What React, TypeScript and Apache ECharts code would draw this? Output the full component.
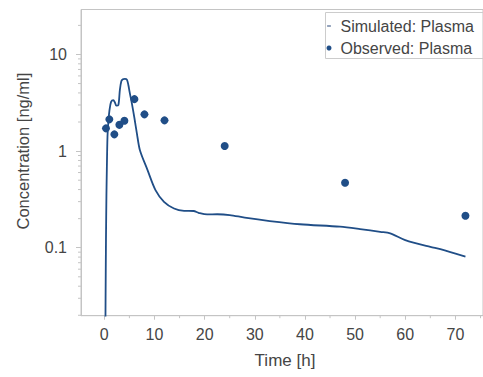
import React, { useEffect, useRef } from "react";
import * as echarts from "echarts";

const simTime = [0.17, 0.25, 0.33, 0.42, 0.5, 0.63, 0.8, 1.03, 1.35, 1.8, 2.1, 2.4, 2.8, 3.1, 3.4, 3.7, 4.1, 4.5, 4.8, 5.0, 5.5, 6.0, 6.5, 7.1, 8.6, 10.2, 11.9, 13.9, 15.9, 17.8, 18.8, 20.5, 22.5, 25, 28, 33, 39, 47, 51, 55, 57, 60, 65, 67, 72];
const simConc = [0.005, 0.03, 0.12, 0.35, 0.64, 1.41, 2.0, 2.65, 3.23, 3.37, 3.2, 2.95, 2.99, 4.3, 5.3, 5.55, 5.6, 5.5, 4.8, 4.2, 3.1, 2.2, 1.52, 1.02, 0.64, 0.395, 0.299, 0.255, 0.241, 0.24, 0.23, 0.221, 0.222, 0.218, 0.205, 0.189, 0.175, 0.165, 0.156, 0.146, 0.141, 0.12, 0.102, 0.097, 0.081];

const obsTime = [0.33, 1, 2, 3, 4, 6, 8, 12, 24, 48, 72];
const obsConc = [1.72, 2.13, 1.49, 1.87, 2.06, 3.45, 2.4, 2.08, 1.13, 0.47, 0.214];

const xMajorTicks = [0, 10, 20, 30, 40, 50, 60, 70];
const xMinorTicks = [5, 15, 25, 35, 45, 55, 65, 75];
const yMajorTicks = [0.1, 1, 10];
const yMinorTicks = [0.02, 0.03, 0.04, 0.05, 0.06, 0.07, 0.08, 0.09, 0.2, 0.3, 0.4, 0.5, 0.6, 0.7, 0.8, 0.9, 2, 3, 4, 5, 6, 7, 8, 9, 20];

const simName = "Simulated: Plasma";
const obsName = "Observed: Plasma";

const COLOR = "#204e87";
const TEXT = "#454545";
const AXIS = "#c4c4c4";
const FONT = "'Liberation Sans', Arial, sans-serif";

export default function App() {
  const ref = useRef<HTMLDivElement>(null);
  useEffect(() => {
    if (!ref.current) return;
    const chart = echarts.init(ref.current, undefined, { renderer: "svg" });
    chart.setOption({
      animation: false,
      textStyle: { fontFamily: FONT },
      grid: {
        left: 81,
        top: 9.5,
        right: -1,
        bottom: 61.3,
        show: true,
        borderColor: AXIS,
        borderWidth: 1,
      },
      legend: {
        orient: "vertical",
        left: 325.5,
        top: 12.5,
        padding: [5, 30, 2, 1],
        borderColor: "#cccccc",
        borderWidth: 1,
        itemGap: 5,
        itemWidth: 5,
        itemHeight: 5,
        selectedMode: false,
        textStyle: { fontSize: 16, color: TEXT, lineHeight: 17, padding: [0, 0, 0, 4], fontFamily: FONT },
        data: [
          { name: simName, icon: "path://M0,0M5,5M0.6,1.9L4.4,1.9L4.4,3.1L0.6,3.1Z", itemStyle: { color: "#4d6790" } },
          { name: obsName, icon: "circle" },
        ],
      },
      xAxis: {
        type: "value",
        min: -4.65,
        max: 75.5,
        name: "Time [h]",
        nameLocation: "middle",
        nameGap: 36,
        nameTextStyle: { fontSize: 17, color: TEXT, padding: [0, 0, 0, 6] },
        axisLine: { show: true, onZero: false, lineStyle: { color: AXIS } },
        axisTick: { show: true, customValues: xMajorTicks, length: 4, lineStyle: { color: AXIS } },
        axisLabel: { customValues: xMajorTicks, fontSize: 16, color: TEXT, margin: 11 },
        splitLine: { show: false },
      },
      yAxis: {
        type: "log",
        logBase: 10,
        min: 0.0198,
        max: 29.2,
        name: "Concentration [ng/ml]",
        nameLocation: "middle",
        nameGap: 50,
        nameTextStyle: { fontSize: 16.5, color: TEXT, padding: [0, 0, 0, 23] },
        axisLine: { show: true, onZero: false, lineStyle: { color: AXIS } },
        axisTick: { show: true, customValues: yMajorTicks, length: 5, lineStyle: { color: AXIS } },
        axisLabel: {
          customValues: yMajorTicks,
          fontSize: 16,
          color: TEXT,
          margin: 14,
          formatter: (v: number) => String(v),
        },
        splitLine: { show: false },
      },
      series: [
        {
          name: simName,
          type: "line",
          data: simTime.map((t, i) => [t, simConc[i]]),
          showSymbol: false,
          symbol: "none",
          smooth: 0.3,
          lineStyle: { color: COLOR, width: 1.8 },
          itemStyle: { color: COLOR },
          clip: true,
        },
        {
          name: obsName,
          type: "scatter",
          data: obsTime.map((t, i) => [t, obsConc[i]]),
          symbol: "circle",
          symbolSize: 8,
          itemStyle: { color: COLOR, opacity: 1 },
        },
      ],
    });
    // minor ticks positioned through the axes' own scales
    const origin = chart.convertToPixel({ gridIndex: 0 }, [-4.65, 0.0198]) as number[];
    const lines: any[] = [];
    xMinorTicks.forEach((v) => {
      const px = chart.convertToPixel({ xAxisIndex: 0 }, v) as number;
      lines.push({
        type: "line",
        shape: { x1: px, y1: origin[1], x2: px, y2: origin[1] + 2.5 },
        style: { stroke: AXIS, lineWidth: 1 },
        silent: true,
      });
    });
    yMinorTicks.forEach((v) => {
      const py = chart.convertToPixel({ yAxisIndex: 0 }, v) as number;
      lines.push({
        type: "line",
        shape: { x1: origin[0] - 3, y1: py, x2: origin[0], y2: py },
        style: { stroke: AXIS, lineWidth: 1 },
        silent: true,
      });
    });
    chart.setOption({ graphic: lines });
    return () => chart.dispose();
  }, []);
  return <div ref={ref} style={{ width: 483, height: 377, position: "absolute", left: 0, top: 0 }} />;
}
